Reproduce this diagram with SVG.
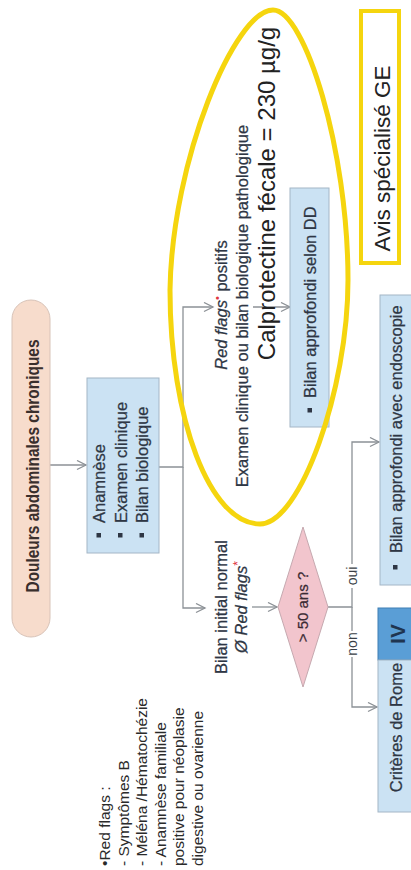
<svg xmlns="http://www.w3.org/2000/svg" width="411" height="870" viewBox="0 0 411 870">
<defs>
<marker id="arr" markerWidth="12" markerHeight="12" refX="10" refY="5" orient="auto" markerUnits="userSpaceOnUse">
<path d="M1,0.5 L10,5 L1,9.5" fill="none" stroke="#8c9196" stroke-width="1.3"/>
</marker>
<style>
text{font-family:"Liberation Sans",Arial,sans-serif;fill:#2e3644;}
.conn{fill:none;stroke:#8c9196;stroke-width:1.3;}
.blue{fill:#cbe2f3;stroke:#a4b6c6;stroke-width:1;}
.f16{font-size:16.5px;stroke:#2e3644;stroke-width:0.25px;}
.bul{fill:#2e3644;}
.lbl{font-size:14px;fill:#3a3f46;}
.note{font-size:15.5px;fill:#2a2a2a;}
.yel{fill:none;stroke:#f5d50e;}
</style>
</defs>
<rect width="411" height="870" fill="#fff"/>

<g id="connectors">
<path class="conn" d="M50,465 H86" marker-end="url(#arr)"/>
<path class="conn" d="M159,467 H183 V307 H213" marker-end="url(#arr)"/>
<path class="conn" d="M183,467 V608 H205" marker-end="url(#arr)"/>
<path class="conn" d="M253,307 H290" marker-end="url(#arr)"/>
<path class="conn" d="M252,607 H277" marker-end="url(#arr)"/>
<path class="conn" d="M328,607 H352 V442 H379" marker-end="url(#arr)"/>
<path class="conn" d="M352,607 V707 H377" marker-end="url(#arr)"/>
<rect x="345" y="564" width="14" height="24" fill="#fff"/>
<text class="lbl" x="357" y="576" transform="rotate(-90 357 576)" text-anchor="middle">oui</text>
<rect x="345" y="631" width="14" height="26" fill="#fff"/>
<text class="lbl" x="357" y="644" transform="rotate(-90 357 644)" text-anchor="middle">non</text>
</g>

<g id="douleurs">
<rect x="12" y="300" width="38" height="337" rx="19" fill="#f7dccc" stroke="#d8c3b8"/>
<text x="39" y="466" transform="rotate(-90 39 466)" text-anchor="middle" font-weight="bold" font-size="17.5" textLength="253" lengthAdjust="spacingAndGlyphs" style="fill:#3a2f2c">Douleurs abdominales chroniques</text>
</g>

<g id="bilan-initial-box">
<rect class="blue" x="87" y="378" width="72" height="175"/>
<rect class="bul" x="96.5" y="533" width="4.5" height="4.5"/>
<rect class="bul" x="118" y="533" width="4.5" height="4.5"/>
<rect class="bul" x="139.5" y="533" width="4.5" height="4.5"/>
<text class="f16" x="105" y="523" transform="rotate(-90 105 523)">Anamnèse</text>
<text class="f16" x="126.5" y="523" transform="rotate(-90 126.5 523)">Examen clinique</text>
<text class="f16" x="148" y="523" transform="rotate(-90 148 523)">Bilan biologique</text>
</g>

<g id="red-flags-positifs">
<text class="f16" x="227" y="305" transform="rotate(-90 227 305)" text-anchor="middle"><tspan font-style="italic">Red flags</tspan><tspan style="fill:#e0343f;stroke:none" font-size="11" dy="-6">•</tspan><tspan dy="6"> positifs</tspan></text>
<text class="f16" x="248" y="306" transform="rotate(-90 248 306)" text-anchor="middle">Examen clinique ou bilan biologique pathologique</text>
<text x="275" y="193.5" transform="rotate(-90 275 193.5)" text-anchor="middle" font-size="24" style="fill:#222">Calprotectine fécale = 230 µg/g</text>
</g>

<g id="bilan-dd">
<rect class="blue" x="290" y="188" width="39" height="239"/>
<rect class="bul" x="307.5" y="408" width="4.5" height="4.5"/>
<text class="f16" x="316" y="398" transform="rotate(-90 316 398)">Bilan approfondi selon DD</text>
</g>

<g id="bilan-normal">
<text class="f16" x="227" y="607" transform="rotate(-90 227 607)" text-anchor="middle">Bilan initial normal</text>
<text class="f16" x="247" y="607" transform="rotate(-90 247 607)" text-anchor="middle"><tspan font-style="italic">Ø Red flags</tspan><tspan style="fill:#e0343f;stroke:none" font-size="12" dy="-5">*</tspan></text>
</g>

<g id="age-decision">
<polygon points="278,607 303,527 328,607 303,687" fill="#f2c5cd" stroke="#c6a9b0"/>
<text x="308" y="607" transform="rotate(-90 308 607)" text-anchor="middle" font-size="15" style="fill:#3a2a33;stroke:#3a2a33;stroke-width:0.25px">&gt; 50 ans ?</text>
</g>

<g id="endoscopie">
<rect class="blue" x="380" y="295" width="40" height="290"/>
<rect class="bul" x="393" y="565" width="4.5" height="4.5"/>
<text class="f16" x="402" y="553" transform="rotate(-90 402 553)">Bilan approfondi avec endoscopie</text>
</g>

<g id="rome">
<rect x="378" y="608" width="42" height="52" fill="#5a9ed6" stroke="#3f7fb3"/>
<rect class="blue" x="378" y="660" width="42" height="152"/>
<text x="405" y="634" transform="rotate(-90 405 634)" text-anchor="middle" font-size="21" font-weight="bold" style="fill:#1f3550">IV</text>
<text class="f16" x="402" y="727.5" transform="rotate(-90 402 727.5)" text-anchor="middle">Critères de Rome</text>
</g>

<g id="avis-ge">
<rect x="361" y="11" width="38" height="252" fill="#fff" stroke="#f5d50e" stroke-width="4"/>
<text x="390" y="158.5" transform="rotate(-90 390 158.5)" text-anchor="middle" font-size="22.5" style="fill:#222">Avis spécialisé GE</text>
</g>

<g id="red-flags-note">
<text class="note" x="110" y="866" transform="rotate(-90 110 866)">•Red flags :</text>
<text class="note" x="128.5" y="866" transform="rotate(-90 128.5 866)">- Symptômes B</text>
<text class="note" x="147" y="866" transform="rotate(-90 147 866)">- Méléna /Hématochézie</text>
<text class="note" x="165.5" y="866" transform="rotate(-90 165.5 866)">- Anamnèse familiale</text>
<text class="note" x="184" y="866" transform="rotate(-90 184 866)">positive pour néoplasie</text>
<text class="note" x="202.5" y="866" transform="rotate(-90 202.5 866)">digestive ou ovarienne</text>
</g>

<g id="highlight-ellipse">
<path class="yel" stroke-width="5" d="M273,10 C305,10 348,150 348,280 C348,390 300,524 260,524 C210,524 170,419 170,290 C172,160 235,10 273,10 Z"/>
</g>
</svg>
